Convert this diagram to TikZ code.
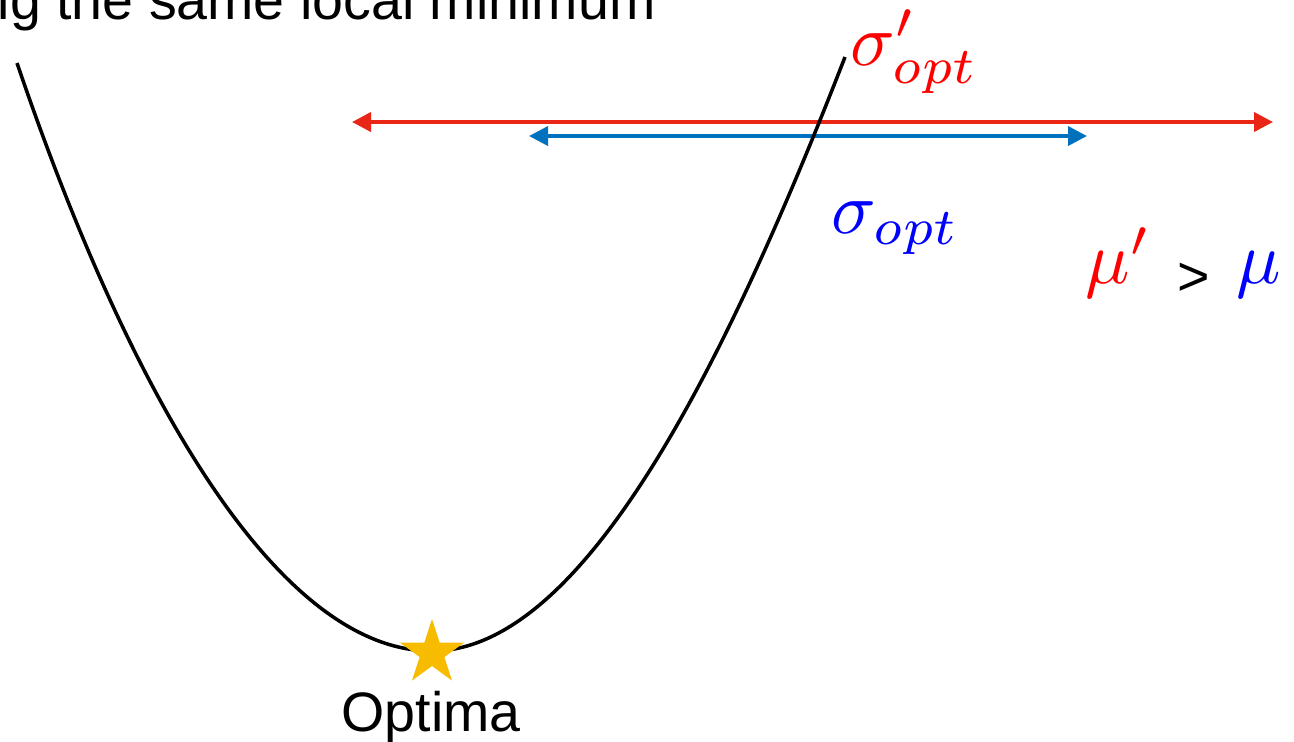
\documentclass[tikz,border=0pt]{standalone}
\usepackage{fontspec}
\setmainfont{Liberation Sans}
\usepackage{amsmath}
\usepackage{graphicx}
\usetikzlibrary{arrows.meta,shapes.geometric}

\definecolor{arrowred}{RGB}{233,38,22}
\definecolor{arrowblue}{RGB}{0,113,188}
\definecolor{staryellow}{RGB}{247,187,0}

\newcommand{\bigmath}[1]{\scalebox{2.1}{$#1$}}

\tikzset{
  textlbl/.style={font=\fontsize{15.8pt}{18pt}\selectfont, inner sep=0pt},
  mathlbl/.style={font=\fontsize{10pt}{12pt}\selectfont, inner sep=0pt},
  rangearrow/.style={{Triangle[length=1.9mm,width=1.9mm]}-{Triangle[length=1.9mm,width=1.9mm]}, line width=1.1pt},
}

\begin{document}
\begin{tikzpicture}[x=0.01cm, y=-0.01cm]

  \useasboundingbox (0,0) rectangle (1294,741);
  \clip (0,0) rectangle (1294,741);

  % Title, cut off at the top
  \node[textlbl, anchor=base west] (title) at (-3,19) {ig the same local minimum};

  % Red and blue ranges
  \coordinate (redL)  at (352,122);
  \coordinate (redR)  at (1273,122);
  \coordinate (blueL) at (529,136);
  \coordinate (blueR) at (1087,136);
  \draw[rangearrow, arrowred] (redL) -- (redR);
  \draw[rangearrow, arrowblue, line width=1pt] (blueL) -- (blueR);

  % Loss curve
  \draw[line width=1pt] (17,63) .. controls (132.5,402.5) and (280,651) .. (432,651)
    .. controls (582,651) and (723.5,370) .. (845,57);

  % Optimum
  \node[star, star points=5, star point ratio=2.618, fill=staryellow,
        inner sep=0pt, minimum size=0.68cm] (optstar) at (432,653) {};
  \node[textlbl, anchor=base] (optlbl) at (431,731) {Optima};

  % Range labels
  \node[mathlbl, anchor=base west, text=red]  (sigmap) at (850,65)  {\bigmath{\sigma'_{opt}}};
  \node[mathlbl, anchor=base west, text=blue] (sigma)  at (831,233) {\bigmath{\sigma_{opt}}};

  % Learning rate comparison
  \node[mathlbl, anchor=base west, text=red]  (mup) at (1085,283) {\bigmath{\mu'}};
  \node[textlbl, anchor=base west]            (gt)  at (1177,295) {>};
  \node[mathlbl, anchor=base west, text=blue] (mu)  at (1236,283) {\bigmath{\mu}};

\end{tikzpicture}
\end{document}
